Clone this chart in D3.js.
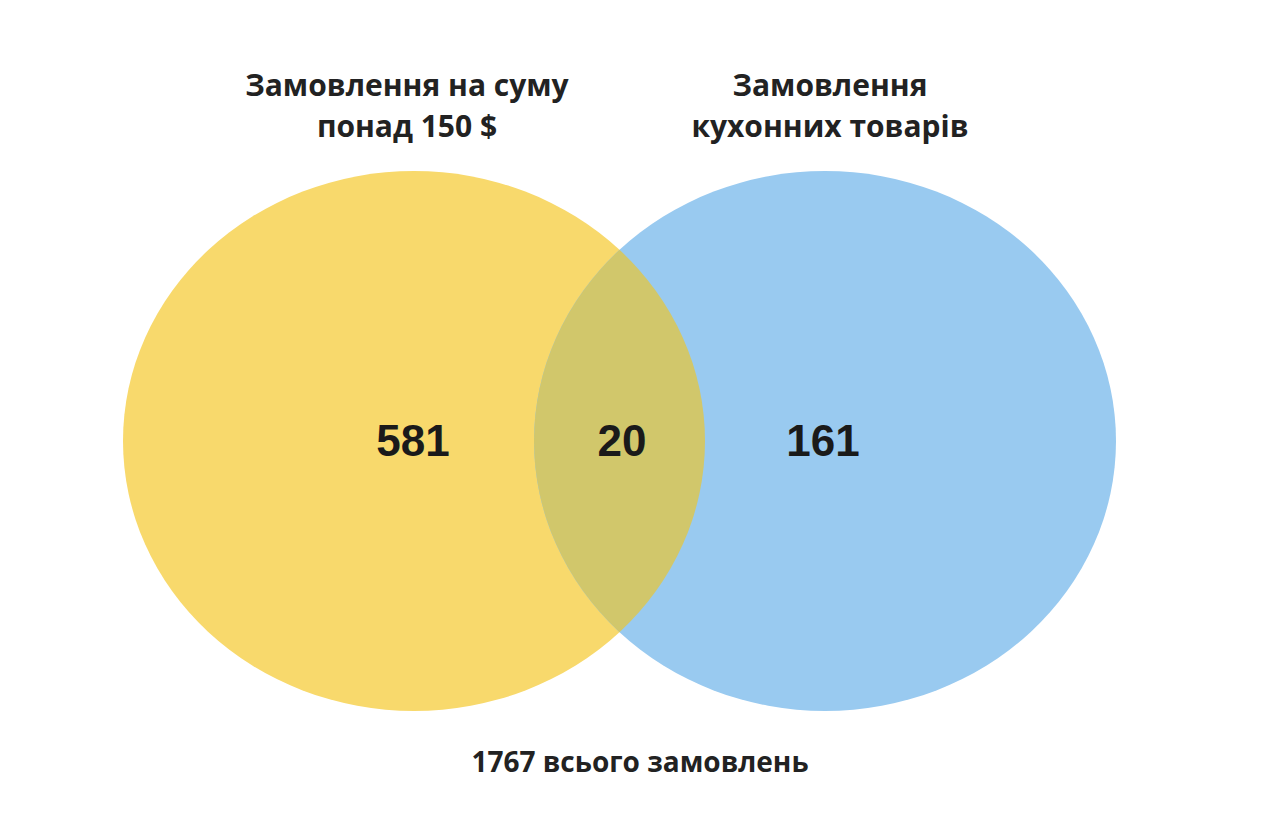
<!DOCTYPE html>
<html><head><meta charset="utf-8">
<script src="https://cdn.jsdelivr.net/npm/d3@7"></script>
<style>body{margin:0;background:#fff}</style>
</head><body>
<svg id="chart"></svg>
<script>
// set labels and counts
const setNames = [["Замовлення на суму", "понад 150 $"], ["Замовлення", "кухонних товарів"]]
const regionCounts = [581, 20, 161]
const totalLabel = "1767 всього замовлень"

const width = 1273, height = 832
const svg = d3.select("#chart").attr("width", width).attr("height", height)

// horizontal layout for two ellipses
const x = d3.scaleLinear().domain([0, 1]).range([414, 825])
const cy = 441, rx = 291, ry = 270

const colors = ["#F8D96C", "#99CAF0"]

svg.append("defs").append("clipPath").attr("id", "clipLeft")
    .append("ellipse").attr("cx", x(0)).attr("cy", cy).attr("rx", rx).attr("ry", ry)

svg.selectAll(".set")
    .data(setNames)
    .join("ellipse")
    .attr("class", "set")
    .attr("cx", (d, i) => x(i))
    .attr("cy", cy)
    .attr("rx", rx)
    .attr("ry", ry)
    .attr("fill", (d, i) => colors[i])

// overlap region
svg.append("ellipse")
    .attr("clip-path", "url(#clipLeft)")
    .attr("cx", x(1)).attr("cy", cy).attr("rx", rx).attr("ry", ry)
    .attr("fill", "#D1C76B")

// titles
setNames.forEach((lines, i) => {
    const t = svg.append("text")
        .attr("x", i === 0 ? 407 : 830)
        .attr("text-anchor", "middle")
        .attr("font-family", "Open Sans")
        .attr("font-weight", "bold")
        .attr("font-size", 30)
        .attr("fill", "#222")
    lines.forEach((l, j) => {
        t.append("tspan").attr("x", i === 0 ? 407 : 830).attr("y", 96 + j * 41).text(l)
    })
})

// region counts
const countX = [413, 622, 823]
svg.selectAll(".count")
    .data(regionCounts)
    .join("text")
    .attr("class", "count")
    .attr("x", (d, i) => countX[i])
    .attr("y", 456)
    .attr("text-anchor", "middle")
    .attr("font-family", "Liberation Sans")
    .attr("font-weight", "bold")
    .attr("font-size", 44)
    .attr("fill", "#1a1a1a")
    .text(d => d)

svg.append("text")
    .attr("x", 640).attr("y", 772)
    .attr("text-anchor", "middle")
    .attr("font-family", "Open Sans")
    .attr("font-weight", "bold")
    .attr("font-size", 28)
    .attr("fill", "#222")
    .text(totalLabel)
</script>
</body></html>
